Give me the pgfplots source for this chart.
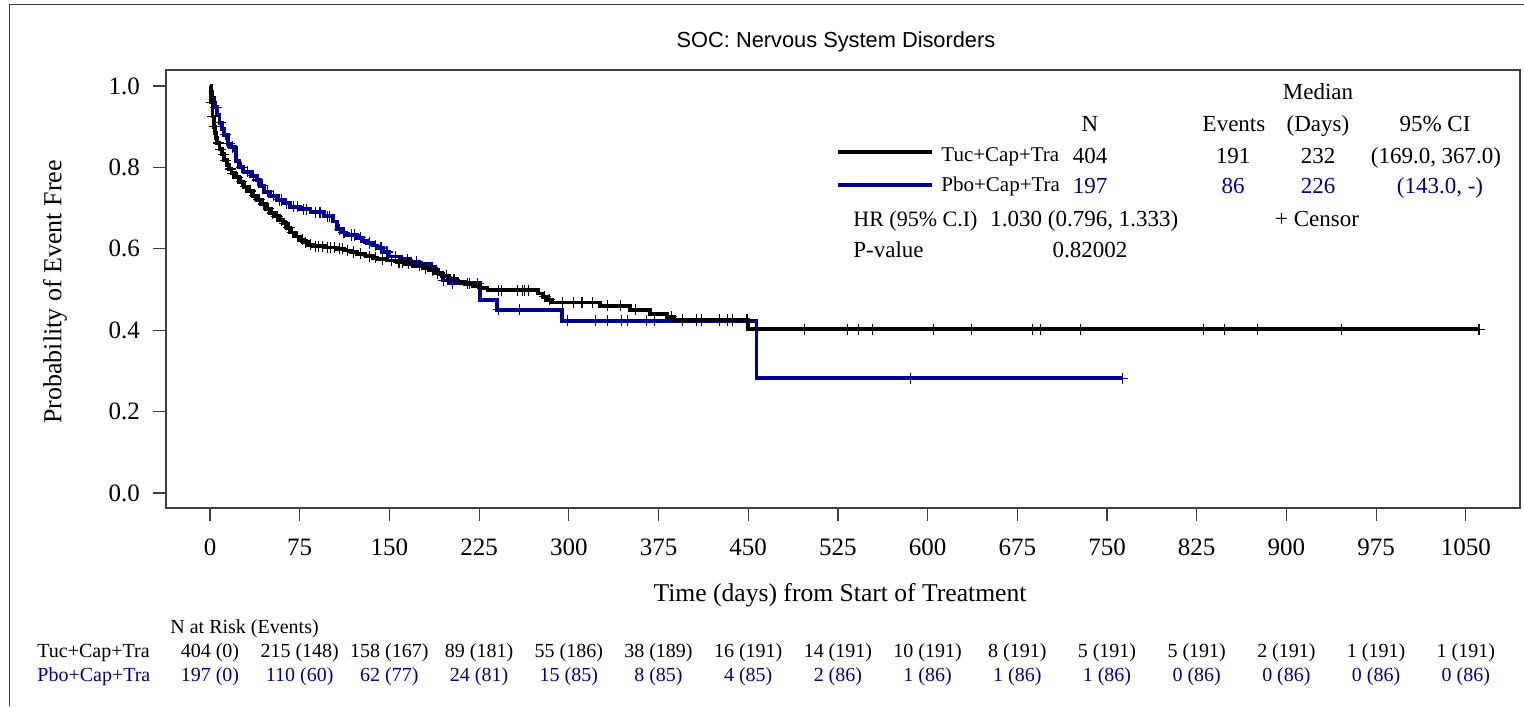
\documentclass[border=0pt]{standalone}
\usepackage{fontspec}
\setmainfont{Liberation Serif}
\newfontfamily\arialfont{Liberation Sans}
\usepackage{pgfplots}
\pgfplotsset{compat=1.18}
\definecolor{kmblue}{RGB}{0,0,150}
\definecolor{framegray}{RGB}{64,64,64}

\begin{document}
\begin{tikzpicture}
% page = 1524 x 706 px at 2 px per pt; axis box SW corner at (0,0)
\path[use as bounding box] (-83pt,-99pt) rectangle (679pt,254pt);
\begin{axis}[
    scale only axis,
    width=677pt, height=219pt,
    xmin=-36.8, xmax=1095.3,
    ymin=-0.0369, ymax=1.0393,
    xtick={0,75,150,225,300,375,450,525,600,675,750,825,900,975,1050},
    ytick={0,0.2,0.4,0.6,0.8,1.0},
    yticklabel style={/pgf/number format/.cd, fixed, fixed zerofill, precision=1, /tikz/.cd, xshift=-3pt},
    xticklabel style={/pgf/number format/.cd, 1000 sep={}, /tikz/.cd, yshift=-5.5pt},
    /pgf/number format/assume math mode=true,
    ticklabel style={font=\fontsize{12.5}{14}\selectfont},
    tick align=outside, tick pos=left,
    major tick length=6.5pt,
    axis line style={framegray, line width=0.6pt},
    tick style={framegray, line width=0.6pt},
    clip=false,
]
% Pbo+Cap+Tra
\addplot[const plot, kmblue, line width=1.9pt] coordinates {
(0,1.000) (1,0.985) (2,0.970) (3,0.958) (4,0.948) (6,0.930) (8,0.910)
(10,0.895) (12,0.880) (15,0.858) (17,0.850) (21,0.843) (22,0.815) (24,0.800)
(28,0.789) (34,0.779) (39,0.769) (42,0.755) (45,0.740) (50,0.730) (56,0.720)
(62,0.712) (67,0.703) (75,0.697) (84,0.690) (95,0.680) (103,0.667) (106,0.648)
(110,0.640) (114,0.634) (123,0.627) (128,0.620) (131,0.614) (136,0.608)
(140,0.602) (145,0.592) (150,0.581) (160,0.574) (167,0.568) (175,0.562)
(184,0.555) (188,0.547) (191,0.538) (195,0.522) (200,0.515) (226,0.475)
(240,0.450) (294,0.423) (457,0.282) (763,0.282)
};
\addplot[only marks, mark=+, mark size=2.8pt, kmblue, mark options={line width=0.55pt}] coordinates {
(5,0.948) (9,0.910) (13,0.880) (16,0.858) (19,0.850) (26,0.800) (31,0.789)
(36,0.779) (40,0.769) (44,0.755) (48,0.740) (53,0.730) (58,0.720) (60,0.720)
(64,0.712) (70,0.703) (73,0.703) (78,0.697) (81,0.697) (88,0.690) (92,0.690)
(98,0.680) (100,0.680) (108,0.648) (112,0.640) (118,0.634) (121,0.634)
(126,0.627) (133,0.614) (138,0.608) (143,0.602) (148,0.592) (155,0.581)
(165,0.574) (173,0.568) (186,0.555) (195,0.522) (203,0.515) (217,0.515)
(224,0.515) (241,0.450) (259,0.450) (299,0.423) (322,0.423) (332,0.423)
(344,0.423) (349,0.423) (365,0.423) (372,0.423) (395,0.423) (407,0.423)
(449,0.423) (586,0.282) (763,0.282)
};
% Tuc+Cap+Tra
\addplot[const plot, black, line width=1.9pt] coordinates {
(0,1.000) (1,0.960) (2,0.925) (3,0.900) (4,0.885) (5,0.872) (6,0.860)
(8,0.845) (10,0.832) (12,0.818) (14,0.806) (16,0.796) (18,0.786) (21,0.776)
(24,0.765) (28,0.752) (32,0.742) (36,0.730) (39,0.720) (43,0.710) (47,0.698)
(50,0.688) (54,0.680) (58,0.670) (61,0.663) (64,0.652) (67,0.640) (71,0.630)
(75,0.622) (78,0.616) (82,0.610) (86,0.606) (96,0.603) (106,0.600)
(112,0.596) (118,0.592) (123,0.588) (130,0.582) (136,0.578) (140,0.575)
(148,0.571) (156,0.567) (163,0.563) (170,0.558) (178,0.553) (183,0.547)
(188,0.540) (194,0.533) (200,0.525) (207,0.519) (213,0.514) (220,0.509)
(226,0.503) (232,0.498) (274,0.490) (278,0.482) (282,0.475) (286,0.468)
(326,0.460) (351,0.450) (368,0.440) (382,0.433) (388,0.425) (450,0.402)
(1061,0.402)
};
\addplot[only marks, mark=+, mark size=2.8pt, black, mark options={line width=0.55pt}] coordinates {
(1.5,0.960) (2.5,0.925) (3.5,0.900) (7,0.860) (9,0.845) (11,0.832)
(13,0.818) (17,0.796) (19,0.786) (23,0.776) (26,0.765) (30,0.752)
(34,0.742) (37,0.730) (41,0.720) (45,0.710) (49,0.698) (52,0.688)
(56,0.680) (60,0.670) (62,0.663) (66,0.652) (69,0.640) (73,0.630)
(77,0.622) (80,0.616) (84,0.610) (88,0.606) (91,0.606) (94,0.606)
(98,0.603) (101,0.603) (104,0.603) (108,0.600) (111,0.600) (115,0.596)
(120,0.592) (126,0.588) (133,0.582) (138,0.578) (144,0.575) (152,0.571)
(158,0.567) (161,0.567) (166,0.563) (175,0.558) (180,0.553) (186,0.547)
(190,0.540) (198,0.533) (204,0.525) (215,0.514) (241,0.498) (244,0.498)
(257,0.498) (261,0.498) (263,0.498) (266,0.498) (280,0.482) (284,0.475)
(295,0.468) (304,0.468) (311,0.468) (320,0.468) (332,0.460) (343,0.460)
(356,0.450) (386,0.433) (395,0.425) (407,0.425) (411,0.425) (426,0.425)
(433,0.425) (437,0.425) (449,0.425) (497,0.402) (533,0.402) (542,0.402)
(554,0.402) (605,0.402) (637,0.402) (688,0.402) (694,0.402) (728,0.402)
(831,0.402) (848,0.402) (876,0.402) (946,0.402) (1061,0.402)
};
\end{axis}

% everything below in reference pixel coordinates
\begin{scope}[shift={(-83pt,254pt)}, x=0.5pt, y=-0.5pt]
\draw[framegray, line width=0.5pt] (10,706) -- (10,5) -- (1524,5);
\node[font=\arialfont\fontsize{10.9}{13}\selectfont, anchor=base] at (836,48) {SOC: Nervous System Disorders};
\node[font=\fontsize{13}{15}\selectfont, rotate=90] at (55,292) {Probability of Event Free};
\node[font=\fontsize{12.8}{15}\selectfont, anchor=base] at (840,601) {Time (days) from Start of Treatment};

% legend / summary table
\begin{scope}[every node/.style={font=\fontsize{11.5}{13}\selectfont, anchor=base, inner sep=0pt}]
\node at (1318,100) {Median};
\node at (1090,132) {N};
\node at (1234,132) {Events};
\node at (1318,132) {(Days)};
\node at (1435,132) {95\% CI};
\draw[black, line width=1.6pt] (838,152) -- (932,152);
\draw[kmblue, line width=1.6pt] (838,185) -- (932,185);
\node[anchor=base west, font=\fontsize{10.5}{12}\selectfont] at (941,162) {Tuc+Cap+Tra};
\node at (1090,164) {404};
\node at (1233,164) {191};
\node at (1318,164) {232};
\node at (1436,164) {(169.0, 367.0)};
\node[anchor=base west, font=\fontsize{10.5}{12}\selectfont] at (941,192) {Pbo+Cap+Tra};
\node[text=kmblue] at (1090,194) {197};
\node[text=kmblue] at (1233,194) {86};
\node[text=kmblue] at (1318,194) {226};
\node[text=kmblue] at (1440,194) {(143.0, -)};
\node[anchor=base west, font=\fontsize{11}{13}\selectfont] at (853,227) {HR (95\% C.I)};
\node[anchor=base west] at (990,227) {1.030 (0.796, 1.333)};
\node at (1317,227) {+ Censor};
\node[anchor=base west] at (853,258) {P-value};
\node at (1090,258) {0.82002};
\end{scope}

% number at risk
\begin{scope}[every node/.style={font=\fontsize{10}{12}\selectfont, anchor=base, inner sep=0pt}]
\node[anchor=base west] at (170,633) {N at Risk (Events)};
\node[anchor=base west] at (37,657) {Tuc+Cap+Tra};
\node[anchor=base west, text=kmblue] at (37,681) {Pbo+Cap+Tra};
\foreach \d/\a/\b in {0/404 (0)/197 (0), 75/215 (148)/110 (60), 150/158 (167)/62 (77),
  225/89 (181)/24 (81), 300/55 (186)/15 (85), 375/38 (189)/8 (85), 450/16 (191)/4 (85),
  525/14 (191)/2 (86), 600/10 (191)/1 (86), 675/8 (191)/1 (86), 750/5 (191)/1 (86),
  825/5 (191)/0 (86), 900/2 (191)/0 (86), 975/1 (191)/0 (86), 1050/1 (191)/0 (86)} {
  \node at ({210+1.196*\d},657) {\a};
  \node[text=kmblue] at ({210+1.196*\d},681) {\b};
}
\end{scope}
\end{scope}
\end{tikzpicture}
\end{document}
